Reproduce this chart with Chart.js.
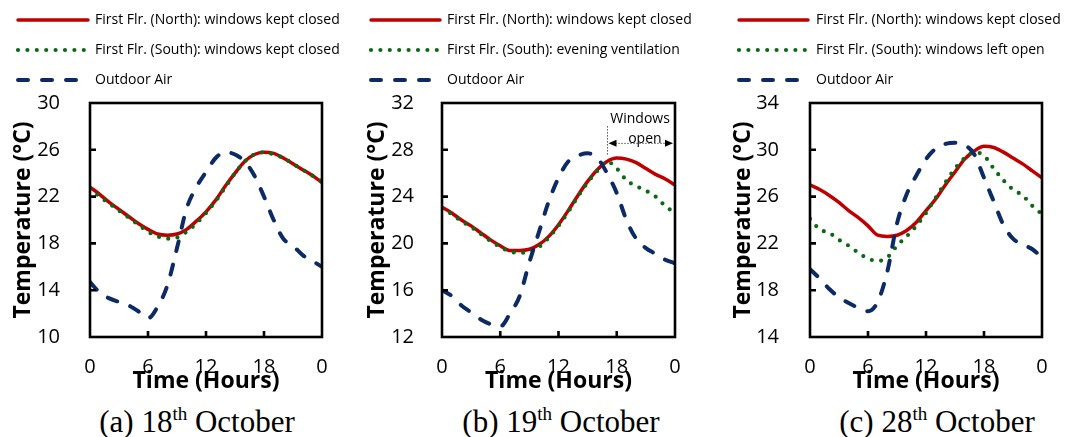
<!DOCTYPE html>
<html>
<head>
<meta charset="utf-8">
<script src="https://cdn.jsdelivr.net/npm/chart.js@4.4.1/dist/chart.umd.min.js"></script>
<style>
  html, body { margin: 0; padding: 0; background: #fff; }
  #wrap { position: relative; width: 1065px; height: 437px; overflow: hidden; }
  .panel { position: absolute; top: 0; width: 355px; height: 395px; }
  .cap {
    position: absolute; top: 404px; width: 320px; text-align: center; white-space: nowrap;
    font-family: 'Liberation Serif', 'Times New Roman', serif; font-size: 31px; line-height: 36px; color: #000;
  }
  .cap .th { font-size: 19px; position: relative; top: -12px; }
</style>
</head>
<body>
<div id="wrap">
  <div class="panel" style="left:0px"><canvas id="chartA" width="355" height="395"></canvas></div>
  <div class="panel" style="left:355px"><canvas id="chartB" width="355" height="395"></canvas></div>
  <div class="panel" style="left:710px"><canvas id="chartC" width="355" height="395"></canvas></div>
  <div class="cap" style="left:37px">(a) 18<span class="th">th</span> October</div>
  <div class="cap" style="left:401px">(b) 19<span class="th">th</span> October</div>
  <div class="cap" style="left:777px">(c) 28<span class="th">th</span> October</div>
</div>
<script>
// hourly readings, 0h .. 24h (midnight to midnight)
const hours = [0,1,2,3,4,5,6,7,8,9,10,11,12,13,14,15,16,17,18,19,20,21,22,23,24];
const xTickVals = [0, 6, 12, 18, 24];
const xTickLabels = ['0', '6', '12', '18', '0'];

const northName = 'First Flr. (North): windows kept closed';
const outdoorName = 'Outdoor Air';
const southNames = [
  'First Flr. (South): windows kept closed',
  'First Flr. (South): evening ventilation',
  'First Flr. (South): windows left open'
];

// (a) 18th October
const northA   = [22.8,22.2,21.5,20.9,20.3,19.7,19.2,18.8,18.7,18.8,19.2,19.9,20.7,21.7,22.9,24.0,25.0,25.6,25.8,25.7,25.3,24.8,24.3,23.8,23.2];
const southA   = [22.7,22.0,21.4,20.8,20.2,19.6,19.0,18.6,18.4,18.5,19.0,19.7,20.6,21.6,22.8,24.0,25.0,25.6,25.8,25.6,25.3,24.8,24.3,23.8,23.3];
const outdoorA = [14.7,13.8,13.3,13.0,12.7,12.2,11.6,12.6,14.4,17.6,21.0,22.8,24.1,25.3,25.8,25.6,25.0,23.8,22.0,20.0,18.4,17.8,17.0,16.5,16.0];
const yTicksA  = [10, 14, 18, 22, 26, 30];

// (b) 19th October
const northB   = [23.1,22.6,22.0,21.5,20.9,20.3,19.8,19.4,19.4,19.5,19.9,20.6,21.6,22.8,24.1,25.3,26.3,27.0,27.3,27.2,26.9,26.4,25.9,25.5,25.0];
const southB   = [23.0,22.5,21.9,21.4,20.8,20.2,19.7,19.3,19.2,19.3,19.7,20.5,21.5,22.7,24.0,25.2,26.2,27.0,26.4,25.4,24.9,24.5,24.0,23.2,22.6];
const outdoorB = [16.0,15.5,14.7,14.1,13.5,13.1,12.9,14.0,15.5,18.4,21.0,23.6,25.6,27.0,27.5,27.7,27.3,26.0,24.3,22.0,20.4,19.6,19.1,18.6,18.3];
const yTicksB  = [12, 16, 20, 24, 28, 32];
const windowsOpen = [17, 24]; // hours

// (c) 28th October
const northC   = [27.0,26.6,26.1,25.5,24.8,24.2,23.5,22.7,22.6,22.7,23.1,23.8,24.8,25.8,27.0,28.1,29.2,29.9,30.3,30.2,29.8,29.3,28.8,28.2,27.6];
const southC   = [24.1,23.2,22.9,22.3,21.8,21.2,20.7,20.5,20.8,21.8,22.6,23.5,24.6,25.9,27.2,28.4,29.3,29.8,29.5,28.4,27.4,26.6,26.1,25.2,24.5];
const outdoorC = [19.8,19.0,18.1,17.4,16.9,16.5,16.2,17.0,19.6,23.7,26.2,27.8,29.2,30.1,30.5,30.6,30.4,29.6,27.6,25.6,23.6,22.4,21.9,21.5,20.8];
const yTicksC  = [14, 18, 22, 26, 30, 34];

const FONT = "'Open Sans', 'DejaVu Sans', sans-serif";
const RED = '#C00000', GREEN = '#0A6A14', BLUE = '#0B2A66';

// box + inward tick marks like the spreadsheet original
const framePlugin = {
  id: 'frame',
  afterDatasetsDraw(chart) {
    const { ctx, chartArea: a, scales: { x, y } } = chart;
    ctx.save();
    ctx.strokeStyle = '#000';
    ctx.lineWidth = 2.6;
    ctx.strokeRect(a.left, a.top, a.right - a.left, a.bottom - a.top);
    ctx.beginPath();
    x.ticks.forEach(t => {
      const px = x.getPixelForValue(t.value);
      if (px > a.left + 2 && px < a.right - 2) { ctx.moveTo(px, a.bottom); ctx.lineTo(px, a.bottom - 6); }
    });
    y.ticks.forEach(t => {
      const py = y.getPixelForValue(t.value);
      if (py > a.top + 2 && py < a.bottom - 2) { ctx.moveTo(a.left, py); ctx.lineTo(a.left + 6, py); }
    });
    ctx.stroke();
    ctx.restore();
  }
};

// legend stacked above the plot, one row per series
const legendPlugin = {
  id: 'sketchLegend',
  afterDraw(chart, args, o) {
    const ctx = chart.ctx;
    ctx.save();
    chart.data.datasets.forEach((ds, i) => {
      const y = o.rows[i];
      ctx.beginPath();
      ctx.strokeStyle = ds.borderColor;
      ctx.lineWidth = ds.borderWidth;
      ctx.lineCap = ds.borderCapStyle || 'butt';
      ctx.setLineDash(ds.borderDash || []);
      ctx.moveTo(o.x0, y);
      ctx.lineTo(o.x1, y);
      ctx.stroke();
      ctx.setLineDash([]);
      ctx.fillStyle = '#000';
      ctx.font = '14px ' + FONT;
      ctx.textAlign = 'left';
      ctx.textBaseline = 'middle';
      ctx.fillText(ds.label, o.tx, y + 0.5);
    });
    ctx.restore();
  }
};

// "Windows open" marker on panel (b)
const windowsPlugin = {
  id: 'windowsOpen',
  afterDraw(chart, args, o) {
    if (!o.range) return;
    const { ctx, scales: { x, y } } = chart;
    const xs = Math.round(x.getPixelForValue(o.range[0])) + 0.5;
    const xe = x.getPixelForValue(o.range[1]) - 2;
    const yTop = y.getPixelForValue(30.0), yBot = y.getPixelForValue(27.6), yArr = y.getPixelForValue(28.55);
    ctx.save();
    ctx.strokeStyle = '#000';
    ctx.lineWidth = 1;
    ctx.setLineDash([1, 2]);
    ctx.beginPath();
    ctx.moveTo(xs, yTop); ctx.lineTo(xs, yBot);
    ctx.moveTo(xs + 8, yArr); ctx.lineTo(xe - 8, yArr);
    ctx.stroke();
    ctx.setLineDash([]);
    ctx.fillStyle = '#000';
    ctx.beginPath();
    ctx.moveTo(xs + 1, yArr); ctx.lineTo(xs + 9, yArr - 3.5); ctx.lineTo(xs + 9, yArr + 3.5); ctx.closePath();
    ctx.moveTo(xe, yArr); ctx.lineTo(xe - 8, yArr - 3.5); ctx.lineTo(xe - 8, yArr + 3.5); ctx.closePath();
    ctx.fill();
    ctx.font = '14px ' + FONT;
    ctx.textAlign = 'center';
    ctx.textBaseline = 'middle';
    ctx.fillText('Windows', x.getPixelForValue(20.4), y.getPixelForValue(30.6));
    ctx.fillText('open', x.getPixelForValue(20.9), y.getPixelForValue(28.95));
    ctx.restore();
  }
};

function series(label, vals, style) {
  return Object.assign({
    label: label,
    data: hours.map((h, i) => ({ x: h, y: vals[i] })),
    pointRadius: 0,
    fill: false,
    cubicInterpolationMode: 'monotone'
  }, style);
}

function makeChart(id, p) {
  const datasets = [
    series(northName, p.north, { borderColor: RED, borderWidth: 3.5, borderCapStyle: 'round', borderJoinStyle: 'round', order: 3 }),
    series(p.southName, p.south, { borderColor: GREEN, borderWidth: 4.2, borderDash: [0, 9.4], borderCapStyle: 'round', order: 2 }),
    series(outdoorName, p.outdoor, { borderColor: BLUE, borderWidth: 4, borderDash: [10, 14], borderCapStyle: 'round', order: 1 })
  ];
  return new Chart(document.getElementById(id), {
    type: 'line',
    data: { datasets },
    options: {
      responsive: false,
      animation: false,
      events: [],
      layout: { padding: { top: 103, right: p.padRight, bottom: 0, left: 0 } },
      plugins: {
        legend: { display: false },
        tooltip: { enabled: false },
        sketchLegend: p.legend,
        windowsOpen: { range: p.windows }
      },
      scales: {
        x: {
          type: 'linear', min: 0, max: 24,
          grid: { display: false }, border: { display: false },
          afterBuildTicks(s) { s.ticks = xTickVals.map(v => ({ value: v })); },
          ticks: { autoSkip: false, maxRotation: 0, padding: 10, color: '#000',
                   font: { family: FONT, size: 20 }, callback: (v, i) => xTickLabels[i] },
          title: { display: true, text: 'Time (Hours)', color: '#000', padding: 0,
                   font: { family: FONT, size: 23, weight: 'bold' } },
          afterFit(s) { s.height = 58; }
        },
        y: {
          min: p.yTicks[0], max: p.yTicks[p.yTicks.length - 1],
          grid: { display: false }, border: { display: false },
          afterBuildTicks(s) { s.ticks = p.yTicks.map(v => ({ value: v })); },
          ticks: { padding: p.yPad, color: '#000', font: { family: FONT, size: 20 } },
          title: { display: true, text: 'Temperature (°C)', color: '#000', padding: { top: p.yTitlePad, bottom: 0 },
                   font: { family: FONT, size: 23, weight: 'bold' } },
          afterFit(s) { s.width = p.left; }
        }
      }
    },
    plugins: [framePlugin, legendPlugin, windowsPlugin]
  });
}

function drawAll() {
  makeChart('chartA', {
    north: northA, south: southA, outdoor: outdoorA, southName: southNames[0], yTicks: yTicksA,
    left: 90, padRight: 33, yPad: 22, yTitlePad: 10,
    legend: { x0: 18, x1: 88, tx: 95, rows: [20, 50, 80] }
  });
  makeChart('chartB', {
    north: northB, south: southB, outdoor: outdoorB, southName: southNames[1], yTicks: yTicksB,
    left: 87, padRight: 35, yPad: 20, yTitlePad: 9, windows: windowsOpen,
    legend: { x0: 16, x1: 85, tx: 92, rows: [20, 50, 80] }
  });
  makeChart('chartC', {
    north: northC, south: southC, outdoor: outdoorC, southName: southNames[2], yTicks: yTicksC,
    left: 100, padRight: 23, yPad: 23, yTitlePad: 20,
    legend: { x0: 29, x1: 98, tx: 106, rows: [20, 50, 80] }
  });
}

if (document.fonts && document.fonts.load) {
  Promise.all([
    document.fonts.load("20px 'Open Sans'"),
    document.fonts.load("bold 23px 'Open Sans'")
  ]).then(drawAll, drawAll);
} else {
  drawAll();
}
</script>
</body>
</html>
